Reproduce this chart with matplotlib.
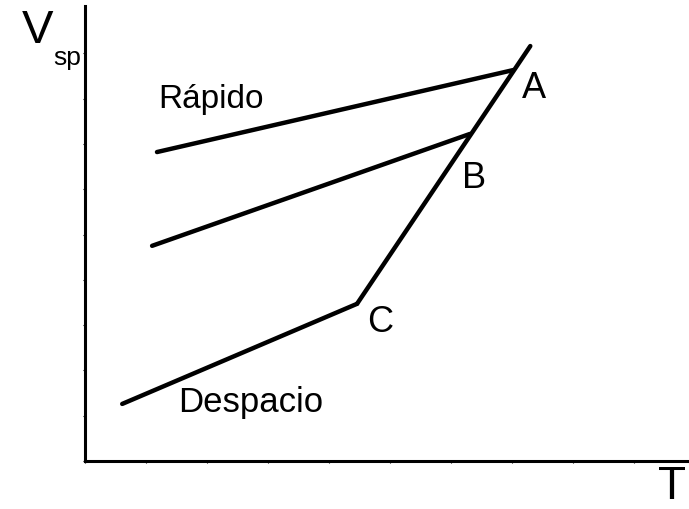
import matplotlib
matplotlib.use('Agg')
import matplotlib.pyplot as plt
import numpy as np

plt.rcParams['font.family'] = ['Liberation Sans', 'DejaVu Sans']

# line segments (x in tick units along T, y in tick units along Vsp)
rapido_x = [1.18, 7.02]
rapido_y = [6.82, 8.63]
medio_x = [1.10, 6.31]
medio_y = [4.75, 7.22]
despacio_x = [0.61, 4.46]
despacio_y = [1.26, 3.47]
limite_x = [4.46, 7.30]
limite_y = [3.47, 9.16]

fig = plt.figure(figsize=(6.89, 5.10), dpi=100)
W, H = 689, 510
ax = fig.add_axes([85 / W, (H - 462) / H, (W - 85) / W, (462 - 7) / H])

for xs, ys in [(rapido_x, rapido_y), (medio_x, medio_y),
               (despacio_x, despacio_y), (limite_x, limite_y)]:
    ax.plot(xs, ys, color='black', lw=3.2, solid_capstyle='round')

ax.set_xlim(0, 604 / 61)
ax.set_ylim(0, 455 / 45.3)
ax.set_xticks(np.arange(0, 10))
ax.set_yticks(np.arange(0, 10))
ax.tick_params(length=1.5, width=0.8, labelbottom=False, labelleft=False)
for s in ['top', 'right']:
    ax.spines[s].set_visible(False)
for s in ['left', 'bottom']:
    ax.spines[s].set_linewidth(2.2)

ax.text(1.20, 7.81, 'Rápido', fontsize=24)
ax.text(1.52, 1.10, 'Despacio', fontsize=25)
ax.text(7.16, 8.04, 'A', fontsize=26)
ax.text(6.18, 6.05, 'B', fontsize=26)
ax.text(4.62, 2.87, 'C', fontsize=26)
ax.text(-1.04, 9.25, 'V', fontsize=34, clip_on=False)
ax.text(-0.52, 8.76, 'sp', fontsize=19, clip_on=False)
ax.text(9.40, -0.81, 'T', fontsize=33, clip_on=False)

fig.savefig('out.png', dpi=100)
